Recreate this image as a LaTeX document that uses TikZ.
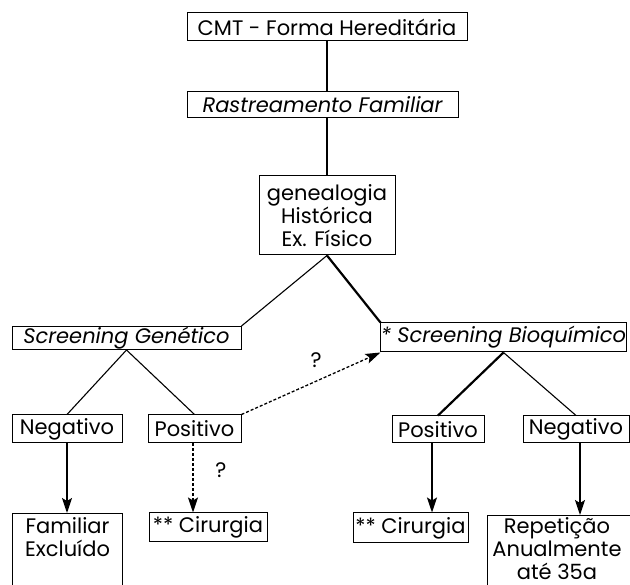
\documentclass[tikz,border=0pt]{standalone}
\usepackage{fontspec}
\setmainfont{Poppins}
\usetikzlibrary{arrows.meta}
\begin{document}
\begin{tikzpicture}[x=1pt,y=-1pt,
  box/.style={draw,line width=1pt,inner sep=0pt,align=center,font=\fontsize{21}{23}\selectfont},
  txt/.style={inner sep=0pt,align=center,font=\fontsize{21}{23}\selectfont},
  thinl/.style={line width=1.1pt},
  thickl/.style={line width=2.2pt},
  arr/.style={line width=1.3pt,-{Stealth[length=15pt,width=10pt,inset=3pt]}},
  darr/.style={line width=1.3pt,dash pattern=on 3pt off 2pt,-{Stealth[length=15pt,width=10pt,inset=3pt]}}]
\useasboundingbox (0,0) rectangle (630,585);
\node[box,minimum width=280pt,minimum height=28pt] (cmt) at (327,27) {CMT - Forma Hereditária};
\node[box,minimum width=271pt,minimum height=26pt] (ras) at (322.5,105) {\itshape Rastreamento Familiar};
\node[box,minimum width=136pt,minimum height=79pt] (gen) at (327,215.5) {genealogia\\Histórica\\Ex. Físico};
\node[box,minimum width=229pt,minimum height=23pt] (sg) at (126.5,338) {\itshape Screening Genético};
\node[box,minimum width=243pt,minimum height=29pt] (sb) at (503.5,337.5) {\itshape * Screening Bioquímico};
\node[box,minimum width=110pt,minimum height=28pt] (nl) at (67,429) {Negativo};
\node[box,minimum width=93pt,minimum height=28pt] (pl) at (194.5,429) {Positivo};
\node[box,minimum width=92pt,minimum height=27pt] (pr) at (438,429.5) {Positivo};
\node[box,minimum width=106pt,minimum height=27pt] (nr) at (576,429.5) {Negativo};
\node[box,minimum width=110pt,minimum height=90pt,anchor=north west] (fam) at (12,513) {};
\node[txt,anchor=north] (famt) at ([yshift=-4pt]fam.north) {Familiar\\Excluído};
\node[box,minimum width=118pt,minimum height=29pt] (cl) at (208,527.5) {** Cirurgia};
\node[box,minimum width=115pt,minimum height=30pt] (cr) at (410.5,528) {** Cirurgia};
\node[box,minimum width=150pt,minimum height=90pt,anchor=north west] (rep) at (487,515) {};
\node[txt,anchor=north] (rept) at (557,517) {Repetição\\Anualmente\\até 35a};
\node[txt] (q1) at (316,360) {?};
\node[txt] (q2) at (221,470) {?};
\draw[thinl] (cmt.south) -- (cmt.south |- ras.north);
\draw[thinl] (gen.north) -- (gen.north |- ras.south);
\draw[thinl] (gen.south) -- (sg.north east);
\draw[thickl] (gen.south) -- (sb.north west);
\draw[thinl] (sg.south) -- (nl.north);
\draw[thinl] (sg.south) -- (pl.north);
\draw[thickl] (sb.south) -- (pr.north);
\draw[thinl] (sb.south) -- (nr.north);
\draw[darr] (pl.north east) -- (sb.south west);
\draw[darr] ([xshift=-1.5pt]pl.south) -- ([xshift=-1.5pt]pl.south |- cl.north);
\draw[arr] (nl.south) -- (nl.south |- fam.north);
\draw[arr] ([xshift=-6pt]pr.south) -- ([xshift=-6pt]pr.south |- cr.north);
\draw[arr] ([xshift=4pt]nr.south) -- ([xshift=4pt]nr.south |- rep.north);
\end{tikzpicture}
\end{document}
